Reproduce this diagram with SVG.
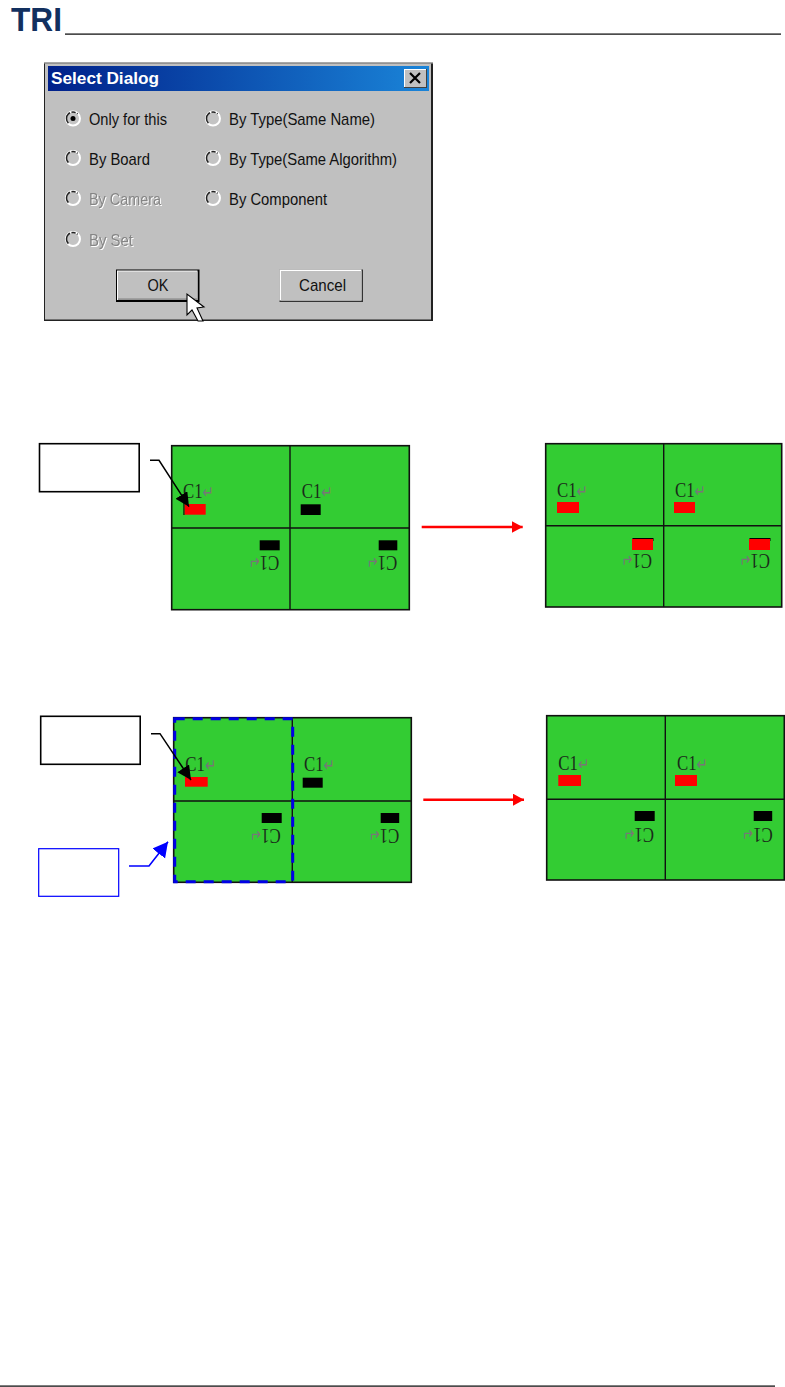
<svg xmlns="http://www.w3.org/2000/svg" width="785" height="1387" viewBox="0 0 785 1387">
<style>
.ui{font-family:"Liberation Sans",Arial,sans-serif;font-size:17px;fill:#111}
.off{fill:#858585;filter:drop-shadow(1px 1px 0 #fff)}
.radio{fill:#c4c4c4;stroke:#fff;stroke-width:2}
.board{fill:#33cc33;stroke:#111;stroke-width:1.6}
.div{stroke:#111;stroke-width:1.4;fill:none}
.c1{font-family:"Liberation Serif","Times New Roman",serif;font-size:21px;fill:#1a2a1a}
.ret{font-family:"DejaVu Sans",sans-serif;font-size:17px;fill:#777}
.k{fill:#000}.r{fill:#f00}
.box{fill:#fff;stroke:#000;stroke-width:1.6}
</style>
<defs>
<linearGradient id="tb" x1="0" x2="1" y1="0" y2="0"><stop offset="0" stop-color="#00208a"/><stop offset="1" stop-color="#1a84d8"/></linearGradient>
<path id="rarc" d="M-4.6 4.6A6.5 6.5 0 0 1 4.6 -4.6" fill="none" stroke="#222" stroke-width="1.5" stroke-dasharray="12 1.5 4 1.5"/>
<marker id="ak" markerUnits="userSpaceOnUse" markerWidth="16" markerHeight="16" refX="14" refY="7" orient="auto"><path d="M0 0L14 7L0 14Z" fill="#000"/></marker>
<marker id="ab" markerUnits="userSpaceOnUse" markerWidth="18" markerHeight="18" refX="15" refY="8" orient="auto"><path d="M0 0L15 8L0 16Z" fill="#0000ff"/></marker>
<marker id="ar" markerUnits="userSpaceOnUse" markerWidth="14" markerHeight="14" refX="11" refY="6" orient="auto"><path d="M0 0L11 6L0 12Z" fill="#f00"/></marker>
</defs>
<rect width="785" height="1387" fill="#fff"/>

<g id="header">
<text x="11" y="31" font-family="Liberation Sans,Arial,sans-serif" font-weight="700" font-size="33" fill="#12305f" textLength="51" lengthAdjust="spacingAndGlyphs">TRI</text>
<rect x="65" y="33.5" width="716" height="1.2" fill="#000"/>
</g>

<g id="dialog">
<rect x="44" y="62" width="389" height="259" fill="#222"/>
<rect x="44" y="62" width="389" height="1.5" fill="#a8a8a8"/>
<rect x="45" y="63.5" width="386" height="256" fill="#c0c0c0"/>
<rect x="48" y="66" width="381" height="25" fill="url(#tb)"/>
<text x="51" y="84" font-family="Liberation Sans,Arial,sans-serif" font-size="17" font-weight="700" fill="#fff" textLength="108" lengthAdjust="spacingAndGlyphs">Select Dialog</text>
<g id="close">
<rect x="404" y="69" width="23" height="19" fill="#404040"/>
<rect x="404" y="69" width="22" height="18" fill="#fff"/>
<rect x="405" y="70" width="21" height="17" fill="#c0c0c0"/>
<path d="M410 73L420 83M420 73L410 83" stroke="#000" stroke-width="2.2" fill="none"/>
</g>
<g id="radio-only"><circle class="radio" cx="73" cy="118.5" r="7"/><use href="#rarc" x="73" y="118.5"/><circle cx="73" cy="118.5" r="2.5" fill="#000"/><text class="ui" x="89" y="125" textLength="78" lengthAdjust="spacingAndGlyphs">Only for this</text></g>
<g id="radio-board"><circle class="radio" cx="73" cy="158" r="7"/><use href="#rarc" x="73" y="158"/><text class="ui" x="89" y="165" textLength="61" lengthAdjust="spacingAndGlyphs">By Board</text></g>
<g id="radio-camera"><circle class="radio" cx="73" cy="198" r="7"/><use href="#rarc" x="73" y="198"/><text class="ui off" x="89" y="205" textLength="72" lengthAdjust="spacingAndGlyphs">By Camera</text></g>
<g id="radio-set"><circle class="radio" cx="73" cy="239" r="7"/><use href="#rarc" x="73" y="239"/><text class="ui off" x="89" y="245.5" textLength="44" lengthAdjust="spacingAndGlyphs">By Set</text></g>
<g id="radio-name"><circle class="radio" cx="213" cy="118.5" r="7"/><use href="#rarc" x="213" y="118.5"/><text class="ui" x="229" y="125" textLength="146" lengthAdjust="spacingAndGlyphs">By Type(Same Name)</text></g>
<g id="radio-algorithm"><circle class="radio" cx="213" cy="158" r="7"/><use href="#rarc" x="213" y="158"/><text class="ui" x="229" y="165" textLength="168" lengthAdjust="spacingAndGlyphs">By Type(Same Algorithm)</text></g>
<g id="radio-component"><circle class="radio" cx="213" cy="198" r="7"/><use href="#rarc" x="213" y="198"/><text class="ui" x="229" y="205" textLength="98" lengthAdjust="spacingAndGlyphs">By Component</text></g>
<g id="btn-ok">
<rect x="116" y="269.5" width="83.5" height="32.5" fill="#000"/>
<rect x="117" y="270.5" width="80.5" height="29.5" fill="#fff"/>
<rect x="118" y="271.5" width="79.5" height="28.5" fill="#c0c0c0"/>
<rect x="118" y="298.5" width="79.5" height="1.2" fill="#808080"/>
<text class="ui" x="147.5" y="291" textLength="21" lengthAdjust="spacingAndGlyphs">OK</text>
</g>
<g id="btn-cancel">
<rect x="279.5" y="269.5" width="83.5" height="32.5" fill="#333"/>
<rect x="279.5" y="269.5" width="82" height="31" fill="#fff"/>
<rect x="281" y="271" width="80.5" height="29.5" fill="#c0c0c0"/>
<text class="ui" x="299" y="291" textLength="47" lengthAdjust="spacingAndGlyphs">Cancel</text>
</g>
<path id="cursor" d="M187 294V315L192 310L198 321L203 321L197 308L204 307Z" fill="#fff" stroke="#000" stroke-width="1.1"/>
</g>

<g id="board-1">
<rect class="board" x="171.7" y="445.7" width="237.6" height="164"/>
<path class="div" d="M290 446V610M172 528H409"/>
<path d="M184 498V515" stroke="#000" stroke-width="1.2"/>
<rect class="r" x="184.7" y="504" width="21" height="10.7"/>
<rect class="k" x="300.7" y="504.3" width="20" height="10.7"/>
<rect class="k" x="259.7" y="540.3" width="20" height="10"/>
<rect class="k" x="378.7" y="540.3" width="18.6" height="10"/>
<text class="c1" transform="translate(183 498.3) scale(.8 1)">C1<tspan class="ret">↵</tspan></text>
<text class="c1" transform="translate(301.7 498.3) scale(.8 1)">C1<tspan class="ret">↵</tspan></text>
<text class="c1" transform="translate(279.3 555.7) rotate(180) scale(.8 1)">C1<tspan class="ret">↵</tspan></text>
<text class="c1" transform="translate(397.3 555.7) rotate(180) scale(.8 1)">C1<tspan class="ret">↵</tspan></text>
</g>

<g id="board-2">
<rect class="board" x="545.7" y="443.7" width="236" height="163.3"/>
<path class="div" d="M663.7 444V607M546 525.7H781.7"/>
<rect class="k" x="632.5" y="538" width="21" height="3"/>
<rect class="k" x="749.5" y="538" width="21" height="3"/>
<rect class="r" x="557" y="502" width="22" height="11"/>
<rect class="r" x="674" y="502" width="21" height="11"/>
<rect class="r" x="632" y="539" width="21" height="11"/>
<rect class="r" x="749" y="539" width="21" height="11"/>
<text class="c1" transform="translate(557 496.7) scale(.8 1)">C1<tspan class="ret">↵</tspan></text>
<text class="c1" transform="translate(675 496.7) scale(.8 1)">C1<tspan class="ret">↵</tspan></text>
<text class="c1" transform="translate(652 554) rotate(180) scale(.8 1)">C1<tspan class="ret">↵</tspan></text>
<text class="c1" transform="translate(770 554) rotate(180) scale(.8 1)">C1<tspan class="ret">↵</tspan></text>
</g>

<g id="board-3">
<rect class="board" x="173.7" y="717.7" width="237.6" height="164.6"/>
<path class="div" d="M292.3 718V882M174 801H411"/>
<rect class="r" x="185" y="777" width="22.7" height="9.7"/>
<rect class="k" x="302.7" y="777.7" width="20" height="10"/>
<rect class="k" x="261.7" y="813" width="20" height="10"/>
<rect class="k" x="380.7" y="813" width="18.5" height="10"/>
<text class="c1" transform="translate(185.3 771) scale(.8 1)">C1<tspan class="ret">↵</tspan></text>
<text class="c1" transform="translate(304 771) scale(.8 1)">C1<tspan class="ret">↵</tspan></text>
<text class="c1" transform="translate(280.7 829) rotate(180) scale(.8 1)">C1<tspan class="ret">↵</tspan></text>
<text class="c1" transform="translate(399.3 829) rotate(180) scale(.8 1)">C1<tspan class="ret">↵</tspan></text>
<rect x="174.7" y="718.7" width="118" height="163" fill="none" stroke="#0000e6" stroke-width="3" stroke-dasharray="10 8"/>
</g>

<g id="board-4">
<rect class="board" x="546.7" y="715.7" width="237.6" height="164.3"/>
<path class="div" d="M665.3 716V880M547 799.3H784"/>
<rect class="r" x="558.3" y="775" width="22.7" height="11"/>
<rect class="r" x="675" y="775" width="22" height="11"/>
<rect class="k" x="634.7" y="811" width="20" height="10"/>
<rect class="k" x="753.7" y="811" width="18.5" height="10"/>
<text class="c1" transform="translate(558.3 769.5) scale(.8 1)">C1<tspan class="ret">↵</tspan></text>
<text class="c1" transform="translate(677 769.5) scale(.8 1)">C1<tspan class="ret">↵</tspan></text>
<text class="c1" transform="translate(654 827.7) rotate(180) scale(.8 1)">C1<tspan class="ret">↵</tspan></text>
<text class="c1" transform="translate(772.7 827.7) rotate(180) scale(.8 1)">C1<tspan class="ret">↵</tspan></text>
</g>

<g id="callout-1"><rect class="box" x="39.5" y="443.7" width="99.7" height="48"/></g>
<g id="callout-2"><rect class="box" x="40.7" y="716.3" width="99.5" height="48"/></g>
<g id="callout-3"><rect x="38.7" y="848.7" width="80" height="47.6" fill="#fff" stroke="#0000ff" stroke-width="1.2"/></g>

<g id="connectors" fill="none">
<path d="M150 460.3H159L189 506.7" stroke="#000" stroke-width="1.5" marker-end="url(#ak)"/>
<path d="M151 733.7H160L191 780" stroke="#000" stroke-width="1.5" marker-end="url(#ak)"/>
<path d="M129 866H149L168 841.7" stroke="#0000ff" stroke-width="1.6" marker-end="url(#ab)"/>
<path d="M421.7 527H522.7" stroke="#f00" stroke-width="2.4" marker-end="url(#ar)"/>
<path d="M423.3 799.7H524" stroke="#f00" stroke-width="2.4" marker-end="url(#ar)"/>
</g>

<rect id="footer" x="0" y="1385.5" width="775" height="1.2" fill="#000"/>
</svg>
